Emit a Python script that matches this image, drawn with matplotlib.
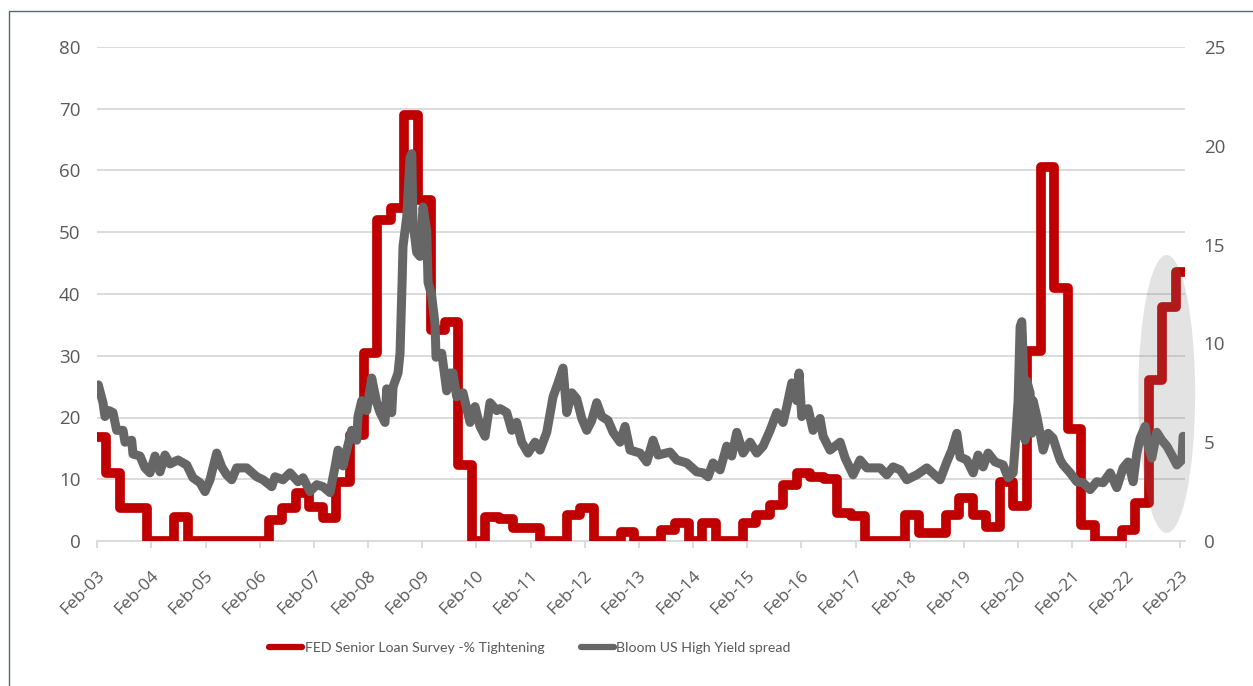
import numpy as np
import matplotlib
matplotlib.use("Agg")
import matplotlib.pyplot as plt
import matplotlib.transforms as mtransforms
from matplotlib.patches import Ellipse, Rectangle

# ---------------- data ----------------
# FED Senior Loan Officer Survey (% tightening), quarterly, dated by quarter start (decimal year)
survey_quarters = np.arange(2003.0, 2023.01, 0.25)
survey_values = [
    16.8, 11.0, 5.3, 5.3,      # 2003
    0.0, 0.0, 3.9, 0.0,        # 2004
    0.0, 0.0, 0.0, 0.0,        # 2005
    0.0, 3.4, 5.3, 7.7,        # 2006
    5.5, 3.7, 9.6, 17.2,       # 2007
    30.4, 52.0, 53.9, 69.0,    # 2008
    55.2, 34.2, 35.5, 12.3,    # 2009
    0.0, 3.9, 3.6, 2.1,        # 2010
    2.1, 0.0, 0.0, 4.2,        # 2011
    5.3, 0.0, 0.0, 1.5,        # 2012
    0.0, 0.0, 1.8, 2.9,        # 2013
    0.0, 2.9, 0.0, 0.0,        # 2014
    2.9, 4.2, 5.8, 9.1,        # 2015
    11.0, 10.4, 10.0, 4.6,     # 2016
    4.0, 0.0, 0.0, 0.0,        # 2017
    4.2, 1.3, 1.3, 4.2,        # 2018
    7.0, 4.2, 2.3, 9.6,        # 2019
    5.6, 30.7, 60.6, 40.9,     # 2020
    18.2, 2.6, 0.0, 0.0,       # 2021
    1.8, 6.1, 26.1, 37.9,      # 2022
    43.6,                      # 2023
]

# Bloomberg US High Yield spread (%), decimal-year dates
hy_dates = [
    2003.101, 2003.188, 2003.225, 2003.299, 2003.373, 2003.441, 2003.558, 2003.595, 2003.718, 2003.742,
    2003.872, 2003.964, 2004.056, 2004.149, 2004.241, 2004.333, 2004.426, 2004.573, 2004.734, 2004.850,
    2004.980, 2005.072, 2005.164, 2005.288, 2005.380, 2005.473, 2005.565, 2005.657, 2005.842, 2006.027,
    2006.143, 2006.304, 2006.365, 2006.512, 2006.642, 2006.789, 2006.882, 2007.011, 2007.135, 2007.251,
    2007.380, 2007.473, 2007.528, 2007.620, 2007.689, 2007.781, 2007.873, 2007.897, 2007.966, 2008.058,
    2008.150, 2008.243, 2008.304, 2008.396, 2008.427, 2008.520, 2008.544, 2008.636, 2008.673, 2008.710,
    2008.728, 2008.797, 2008.858, 2008.889, 2008.913, 2008.981, 2009.042, 2009.098, 2009.166, 2009.190,
    2009.258, 2009.319, 2009.338, 2009.443, 2009.535, 2009.596, 2009.652, 2009.720, 2009.836, 2009.966,
    2010.058, 2010.150, 2010.243, 2010.335, 2010.459, 2010.520, 2010.643, 2010.736, 2010.828, 2010.920,
    2011.037, 2011.166, 2011.258, 2011.382, 2011.499, 2011.591, 2011.683, 2011.752, 2011.844, 2011.936,
    2012.029, 2012.121, 2012.213, 2012.305, 2012.398, 2012.514, 2012.607, 2012.736, 2012.828, 2012.921,
    2013.105, 2013.229, 2013.345, 2013.438, 2013.659, 2013.783, 2013.968, 2014.152, 2014.269, 2014.361,
    2014.453, 2014.583, 2014.706, 2014.798, 2014.891, 2015.007, 2015.137, 2015.260, 2015.377, 2015.506,
    2015.630, 2015.746, 2015.814, 2015.907, 2015.999, 2016.041, 2016.091, 2016.208, 2016.300, 2016.429,
    2016.485, 2016.614, 2016.799, 2016.891, 2017.039, 2017.168, 2017.292, 2017.537, 2017.661, 2017.777,
    2017.907, 2018.030, 2018.215, 2018.400, 2018.645, 2018.769, 2018.861, 2018.954, 2019.015, 2019.138,
    2019.255, 2019.347, 2019.439, 2019.532, 2019.661, 2019.809, 2019.901, 2019.994, 2020.031, 2020.086,
    2020.123, 2020.154, 2020.178, 2020.215, 2020.246, 2020.307, 2020.339, 2020.363, 2020.431, 2020.492,
    2020.548, 2020.640, 2020.732, 2020.801, 2020.862, 2020.917, 2021.046, 2021.170, 2021.286, 2021.416,
    2021.539, 2021.655, 2021.785, 2021.908, 2022.025, 2022.117, 2022.210, 2022.278, 2022.339, 2022.431,
    2022.487, 2022.555, 2022.647, 2022.740, 2022.832, 2022.924, 2023.017, 2023.109, 2023.133,
]
hy_values = [
    7.9, 7.0, 6.3, 6.6, 6.5, 5.6, 5.6, 5.0, 5.1, 4.4,
    4.3, 3.7, 3.45, 4.3, 3.5, 4.35, 3.9, 4.1, 3.85, 3.2,
    2.95, 2.5, 3.1, 4.45, 3.75, 3.35, 3.1, 3.7, 3.7, 3.25,
    3.1, 2.75, 3.25, 3.1, 3.45, 3.0, 3.2, 2.5, 2.85, 2.75,
    2.45, 3.75, 4.6, 3.8, 4.6, 5.6, 5.1, 6.3, 7.1, 6.6,
    8.25, 7.0, 6.5, 6.0, 7.7, 6.5, 7.8, 8.5, 9.5, 13.0,
    14.9, 16.4, 19.4, 19.6, 16.1, 14.6, 14.4, 16.9, 15.7, 13.1,
    12.4, 11.0, 9.3, 9.5, 7.6, 8.5, 8.5, 7.3, 7.5, 6.0,
    6.8, 5.8, 5.3, 7.0, 6.6, 6.7, 6.5, 5.6, 6.0, 5.0,
    4.45, 5.0, 4.6, 5.5, 7.3, 8.0, 8.75, 6.5, 7.5, 7.2,
    6.2, 5.6, 6.1, 7.0, 6.3, 6.1, 5.5, 5.0, 5.8, 4.6,
    4.45, 4.0, 5.1, 4.35, 4.5, 4.1, 3.95, 3.5, 3.45, 3.25,
    3.95, 3.6, 4.8, 4.3, 5.5, 4.45, 5.0, 4.45, 4.8, 5.6,
    6.5, 6.0, 6.8, 8.0, 7.1, 8.5, 6.3, 6.7, 5.6, 6.2,
    5.3, 4.6, 5.0, 4.2, 3.35, 4.1, 3.7, 3.7, 3.35, 3.75,
    3.6, 3.1, 3.35, 3.7, 3.1, 4.0, 4.6, 5.45, 4.25, 4.1,
    3.45, 4.35, 3.75, 4.45, 4.0, 3.85, 3.2, 3.45, 4.8, 7.1,
    10.85, 11.1, 9.3, 5.1, 8.1, 7.5, 5.45, 7.1, 6.3, 5.45,
    4.6, 5.45, 5.2, 4.6, 4.1, 3.85, 3.45, 3.0, 2.95, 2.6,
    3.0, 2.95, 3.45, 2.7, 3.7, 4.0, 3.0, 4.45, 5.2, 5.8,
    4.8, 4.2, 5.5, 5.1, 4.8, 4.35, 3.85, 4.1, 5.3,
]

tick_years = list(range(2003, 2024))
tick_labels = [f"Feb-{y % 100:02d}" for y in tick_years]

label_red = "FED Senior Loan Survey -% Tightening"
label_grey = "Bloom US High Yield spread"

# ---------------- style ----------------
RED = "#C00000"
GREY = "#666666"
GRID = "#D9D9D9"
TXT = "#595959"
W, H = 1253, 686
TICKFONT = ["Open Sans", "DejaVu Sans"]

X0 = 2003 + 1 / 12          # Feb-2003
X1 = 2023 + 0.16            # end of data
feb = [y + 1 / 12 for y in tick_years]

fig = plt.figure(figsize=(W / 100, H / 100), dpi=100)
ax = fig.add_axes([97.3 / W, 1 - 541 / H, (1184.6 - 97.3) / W, (541 - 47) / H])
ax2 = ax.twinx()

# red survey line (step)
rx = list(survey_quarters) + [X1 + 0.1]
ry = list(survey_values) + [survey_values[-1]]
ax.plot(rx, ry, drawstyle="steps-post", color=RED, lw=7.0,
        solid_joinstyle="round", solid_capstyle="butt", label=label_red, zorder=3)

# grey HY spread line
ax2.plot(hy_dates, hy_values, color=GREY, lw=6.5, solid_joinstyle="round",
         solid_capstyle="round", label=label_grey, zorder=3)

ax.set_xlim(X0, X1)
ax.set_ylim(0, 80)
ax2.set_ylim(0, 25)

ax.set_yticks(range(0, 81, 10))
ax2.set_yticks(range(0, 26, 5))
ax.grid(axis="y", color=GRID, lw=1.3, zorder=0)
ax.set_axisbelow(True)

ax.set_xticks(feb)
ax.set_xticklabels(tick_labels, rotation=45, ha="right", va="center",
                   rotation_mode="anchor", fontsize=12.5, color=TXT, family=TICKFONT)
ax.tick_params(axis="x", direction="out", length=5, width=1.3, color=GRID, pad=18.5)
ax.tick_params(axis="y", length=0, pad=12.2, labelsize=13.5, labelcolor=TXT)
ax2.tick_params(axis="y", length=0, pad=13.7, labelsize=13.5, labelcolor=TXT)
for t in ax.get_yticklabels() + ax2.get_yticklabels():
    t.set_family(TICKFONT)
shift = mtransforms.ScaledTranslation(5 / 100, 0, fig.dpi_scale_trans)
for tk in ax.xaxis.get_major_ticks():
    tk.label1.set_transform(tk.label1.get_transform() + shift)

for a in (ax, ax2):
    for s in ("top", "left", "right", "bottom"):
        a.spines[s].set_visible(False)
ax.spines["bottom"].set_visible(True)
ax.spines["bottom"].set_color(GRID)
ax.spines["bottom"].set_linewidth(1.3)

# highlight ellipse (drawn on top)
ell = Ellipse((2022.83, 7.44), width=1.05, height=14.07, facecolor=(0.49, 0.49, 0.49),
              alpha=0.21, edgecolor="none", zorder=5, clip_on=False)
ax2.add_patch(ell)

# legend
h1, l1 = ax.get_legend_handles_labels()
h2, l2 = ax2.get_legend_handles_labels()
leg = fig.legend(h1 + h2, l1 + l2, loc="center", bbox_to_anchor=(530 / W, 1 - 648 / H),
                 ncol=2, frameon=False, handlelength=2.35, handletextpad=0.15,
                 columnspacing=2.6, prop={"family": ["Lato", "DejaVu Sans"], "size": 10.2})
for t in leg.get_texts():
    t.set_color(TXT)
for lh in leg.get_lines():
    lh.set_linewidth(4.5)
    lh.set_solid_capstyle("round")

# outer border (left/top visible)
fig.add_artist(Rectangle((8.5 / W, -0.1), 1.2, (H - 10.5) / H + 0.1, transform=fig.transFigure,
                         fill=False, edgecolor="#5B6769", lw=1.0))

fig.savefig("out.png", dpi=100)
